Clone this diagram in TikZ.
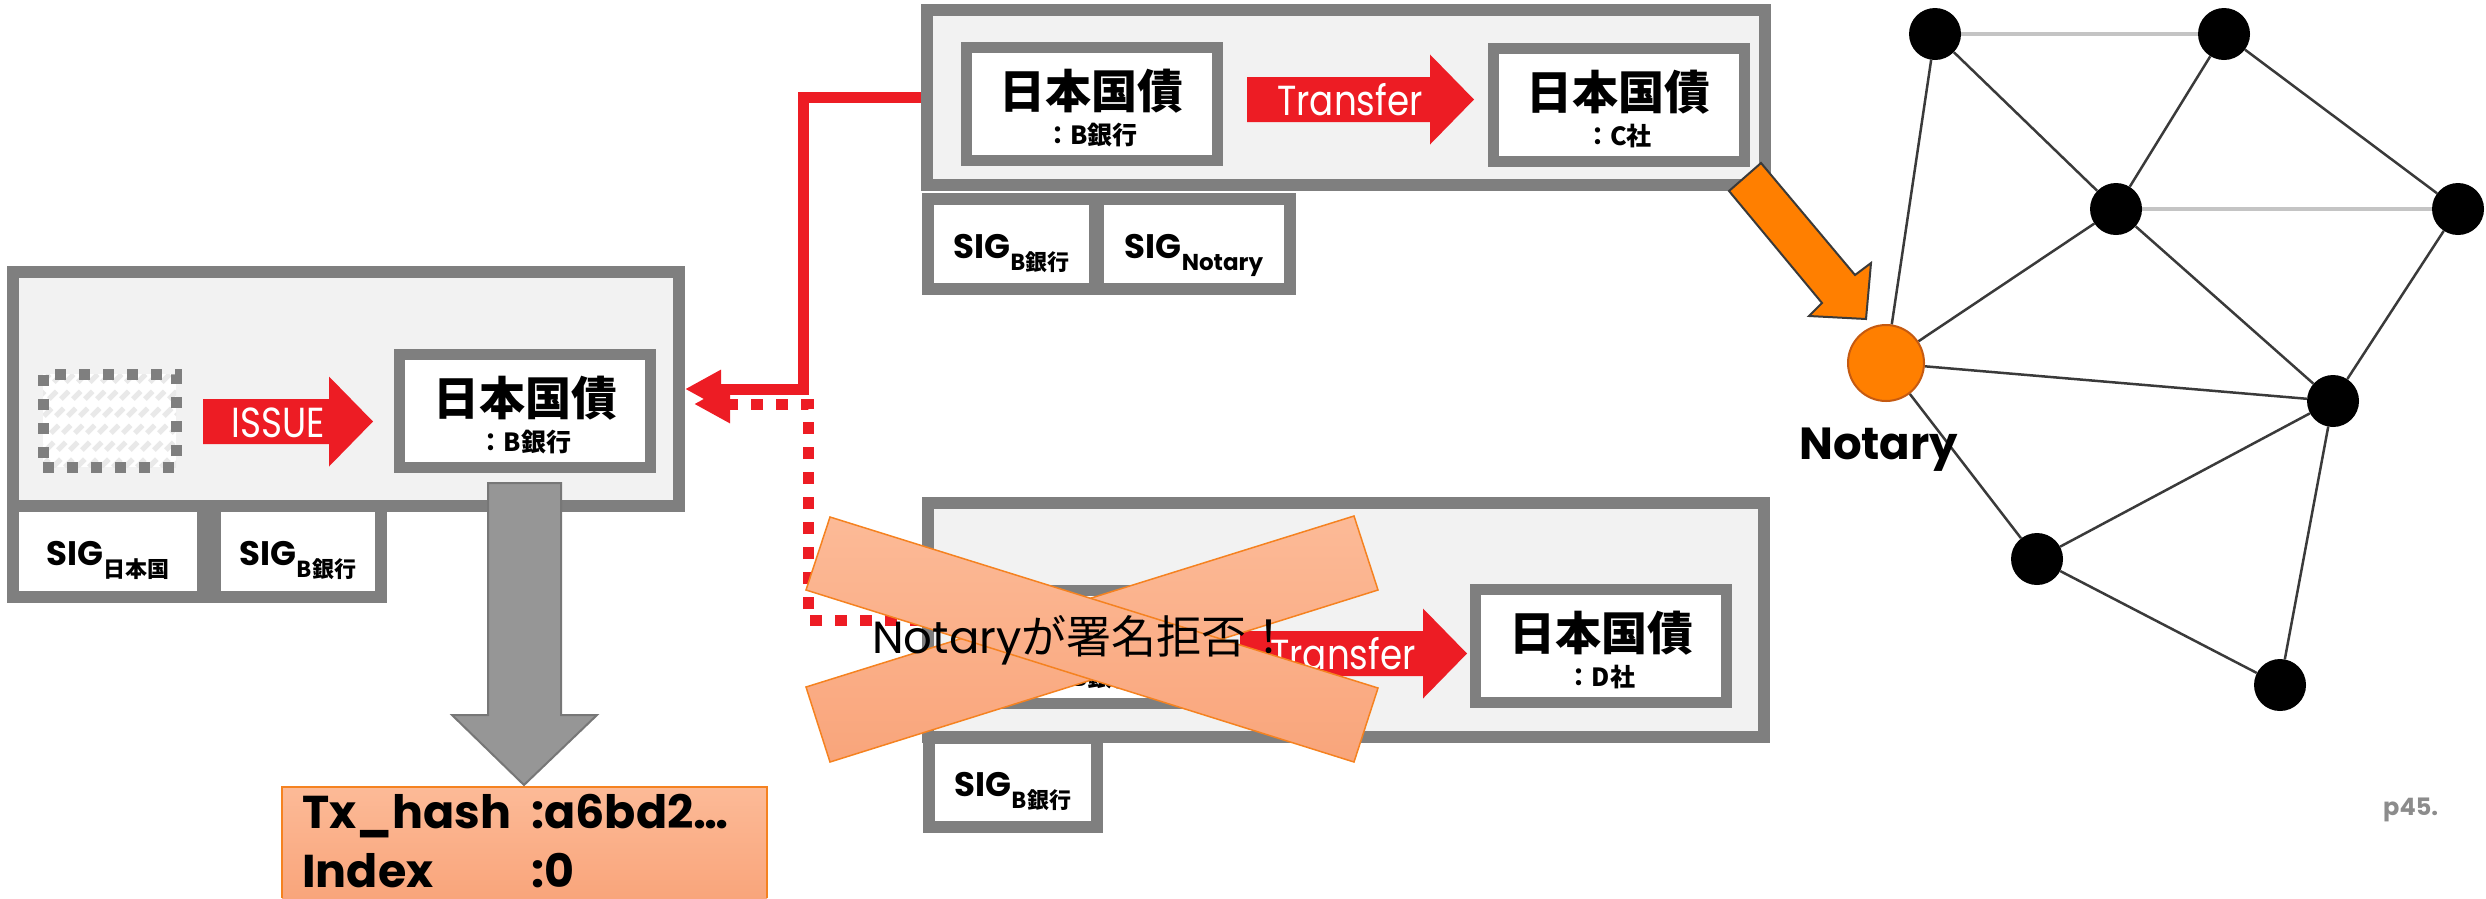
\documentclass[tikz,border=0pt]{standalone}
\usepackage{fontspec}
\setmainfont{Poppins}
\newfontfamily\jp{Noto Sans CJK JP}
\usetikzlibrary{arrows.meta,backgrounds}
\newcommand\fsz[1]{\fontsize{#1pt}{#1pt}\selectfont}
\definecolor{bgray}{HTML}{7F7F7F}
\definecolor{bfill}{HTML}{F2F2F2}
\definecolor{rd}{HTML}{ED1C24}
\definecolor{org}{HTML}{FF7F00}
\definecolor{orgdk}{HTML}{C55A11}
\definecolor{salT}{HTML}{FCBA97}
\definecolor{salB}{HTML}{F9A57B}
\definecolor{salE}{HTML}{F58220}
\definecolor{edgedk}{HTML}{3A3A3A}
\definecolor{edgelt}{HTML}{C4C4C4}
\definecolor{arrg}{HTML}{969696}
\definecolor{arrgE}{HTML}{777777}
\definecolor{pgray}{HTML}{8C8C8C}
\definecolor{hatch}{HTML}{E9E9E9}
\newcommand\blockarrow[4]{% name, x start, x tip, y center
  \fill[rd] (#2,{#4-22.5}) -- ({#3-44},{#4-22.5}) -- ({#3-44},{#4-45}) -- (#3,#4) -- ({#3-44},{#4+45}) -- ({#3-44},{#4+22.5}) -- (#2,{#4+22.5}) -- cycle;}
\begin{document}
\begin{tikzpicture}[x=1pt,y=-1pt,
  txbox/.style={draw=bgray, fill=bfill, line width=12pt, inner sep=0pt},
  bondbox/.style={draw=bgray, fill=white, line width=11pt, inner sep=0pt, minimum width=251pt, minimum height=113pt},
  sigbox/.style={draw=bgray, fill=white, line width=12pt, inner sep=0pt},
  bondtitle/.style={anchor=base, inner sep=0pt, font=\jp\bfseries\fsz{46}},
  bondowner/.style={anchor=base, inner sep=0pt, font=\jp\bfseries\fsz{25}},
  sigtext/.style={anchor=base, inner sep=0pt, font=\bfseries\fsz{34}},
  arrtext/.style={anchor=base, inner sep=0pt, text=white, font=\fsz{42}},
  hashtext/.style={anchor=base west, inner sep=0pt, font=\bfseries\fsz{46}},
  redline/.style={draw=rd, line width=11pt, -{Triangle[length=36pt,width=36pt]}},
  dotline/.style={draw=rd, line width=11pt, dash pattern=on 12pt off 13pt, -{Triangle[length=36pt,width=36pt]}},
  netnode/.style={circle, fill=black, minimum size=52pt, inner sep=0pt},
  netdk/.style={draw=edgedk, line width=2.5pt},
  netlt/.style={draw=edgelt, line width=3.5pt},
  crossbar/.style={top color=salT, bottom color=salB, draw=salE, line width=1.5pt},
]
\useasboundingbox (0,0) rectangle (2486,898);

% transaction boxes
\node[txbox, minimum width=838pt, minimum height=175pt] (tx1) at (1346,97.5) {};
\node[txbox, minimum width=836pt, minimum height=234pt] (tx2) at (1346,620) {};
\node[txbox, minimum width=666pt, minimum height=234pt] (issue) at (346,389) {};

% signature boxes
\node[sigbox, minimum width=190pt, minimum height=91pt] (s1) at (108,551.5) {};
\node[sigbox, minimum width=166pt, minimum height=91pt] (s2) at (298,551.5) {};
\node[sigbox, minimum width=167pt, minimum height=90pt] (s3) at (1011.5,244) {};
\node[sigbox, minimum width=192pt, minimum height=90pt] (s4) at (1194,244) {};
\node[sigbox, minimum width=168pt, minimum height=89pt] (s5) at (1013,782.5) {};
\node[sigtext] (s1t) at (108,565) {SIG\raisebox{-12pt}{\fsz{22}\jp\bfseries 日本国}};
\node[sigtext] (s2t) at (298,565) {SIG\raisebox{-12pt}{\fsz{22}\jp\bfseries B銀行}};
\node[sigtext] (s3t) at (1011.5,258) {SIG\raisebox{-12pt}{\fsz{22}\jp\bfseries B銀行}};
\node[sigtext] (s4t) at (1194,258) {SIG\raisebox{-12pt}{\fsz{23}\bfseries Notary}};
\node[sigtext] (s5t) at (1013,796) {SIG\raisebox{-12pt}{\fsz{22}\jp\bfseries B銀行}};

% bond boxes
\node[bondbox] (b1) at (1091.5,104) {};
\node[bondbox] (b2) at (1618.5,105) {};
\node[bondbox] (b3) at (525,411) {};
\node[bondbox] (b4) at (1601,646) {};
\node[bondbox] (b5) at (1091.5,646.5) {};
\node[bondtitle] (b1a) at (1091.5,108) {日本国債};
\node[bondowner] (b1b) at (1091.5,144) {：B銀行};
\node[bondtitle] (b2a) at (1618.5,109) {日本国債};
\node[bondowner] (b2b) at (1618.5,145) {：C社};
\node[bondtitle] (b3a) at (525,415) {日本国債};
\node[bondowner] (b3b) at (525,451) {：B銀行};
\node[bondtitle] (b4a) at (1601,650) {日本国債};
\node[bondowner] (b4b) at (1601,686) {：D社};
\node[bondtitle] (b5a) at (1091.5,650.5) {日本国債};
\node[bondowner] (b5b) at (1091.5,686.5) {：B銀行};

% empty (dotted, hatched) input
\node[draw=bgray, line width=11pt, dash pattern=on 11pt off 13pt, fill=white,
  minimum width=133pt, minimum height=93pt, inner sep=0pt,
  path picture={\foreach \i in {0,12,...,240}{\draw[hatch, line width=5pt] ([xshift=\i pt-110pt]path picture bounding box.south west) -- ++(110,-110);}}] (empty) at (109.5,420.5) {};

% block arrows
\blockarrow{ia}{203}{373}{421.5}
\node[arrtext] (issuet) at (278,437) {\scalebox{0.85}[1]{ISSUE}};
\blockarrow{ta}{1247}{1474}{99.5}
\node[arrtext] (tr1t) at (1350,115) {\scalebox{0.85}[1]{Transfer}};
\blockarrow{tb}{1240}{1467}{653.5}
\node[arrtext] (tr2t) at (1343,669) {\scalebox{0.85}[1]{Transfer}};

% grey down arrow to output reference
\node[top color=salT, bottom color=salB, minimum width=485pt, minimum height=111pt, inner sep=0pt, anchor=north west] (txhash) at (282,787) {};
\draw[salE, line width=2pt] (txhash.south west) -- (txhash.north west) -- (txhash.north east) -- (txhash.south east);
\filldraw[fill=arrg, draw=arrgE, line width=2pt] (488,483) -- (561,483) -- (561,715) -- (597,715) -- (524,785) -- (452,715) -- (488,715) -- cycle;
\node[hashtext] (h1) at (302,828) {Tx\_hash};
\node[hashtext] (h2) at (531,828) {:a6bd2…};
\node[hashtext] (h3) at (302,887) {Index};
\node[hashtext] (h4) at (531,887) {:0};

% red connectors
\coordinate (bendA) at (803,389);
\coordinate (bendB) at (808,404);
\draw[redline] (tx1.west) -| (bendA) -- (issue.east);
\draw[dotline] (tx2.west) -| (bendB) -- ([xshift=9pt,yshift=-15pt]issue.east);

% the big cross
\path[crossbar] (806,687) -- (1354,516) -- (1378,590) -- (830,762) -- cycle;
\path[crossbar] (830,517) -- (1378,688) -- (1354,762) -- (806,590) -- cycle;
\node[anchor=base west, inner sep=0pt, font=\fsz{45}] (refuse) at (872,653) {Notary{\jp が署名拒否！}};

% network
\node[netnode] (n1) at (1935,34) {};
\node[netnode] (n2) at (2224,34) {};
\node[netnode] (n3) at (2116,209) {};
\node[netnode] (n4) at (2458,209) {};
\node[circle, fill=org, draw=orgdk, line width=2pt, minimum size=76pt, inner sep=0pt] (notary) at (1886,363) {};
\node[netnode] (n5) at (2333,401) {};
\node[netnode] (n6) at (2037,559) {};
\node[netnode] (n7) at (2280,685) {};
\begin{pgfonlayer}{background}
\draw[netlt] (n1) -- (n2);
\draw[netlt] (n3) -- (n4);
\draw[netdk] (n1) -- (n3);
\draw[netdk] (n1) -- (notary);
\draw[netdk] (n2) -- (n3);
\draw[netdk] (n2) -- (n4);
\draw[netdk] (n3) -- (notary);
\draw[netdk] (n3) -- (n5);
\draw[netdk] (n4) -- (n5);
\draw[netdk] (notary) -- (n5);
\draw[netdk] (notary) -- (n6);
\draw[netdk] (n5) -- (n6);
\draw[netdk] (n5) -- (n7);
\draw[netdk] (n6) -- (n7);
\end{pgfonlayer}
\node[anchor=base west, inner sep=0pt, font=\bfseries\fsz{45}] (notaryl) at (1799,459) {Notary};

% orange arrow to the notary
\filldraw[fill=org, draw=edgedk, line width=2pt, line join=miter] (1761,163) -- (1855,275) -- (1871,263) -- (1866,319) -- (1809,316) -- (1822,303) -- (1729,191) -- cycle;

\node[anchor=base west, inner sep=0pt, text=pgray, font=\bfseries\fsz{24}] (page) at (2383,815) {p45.};
\end{tikzpicture}
\end{document}
